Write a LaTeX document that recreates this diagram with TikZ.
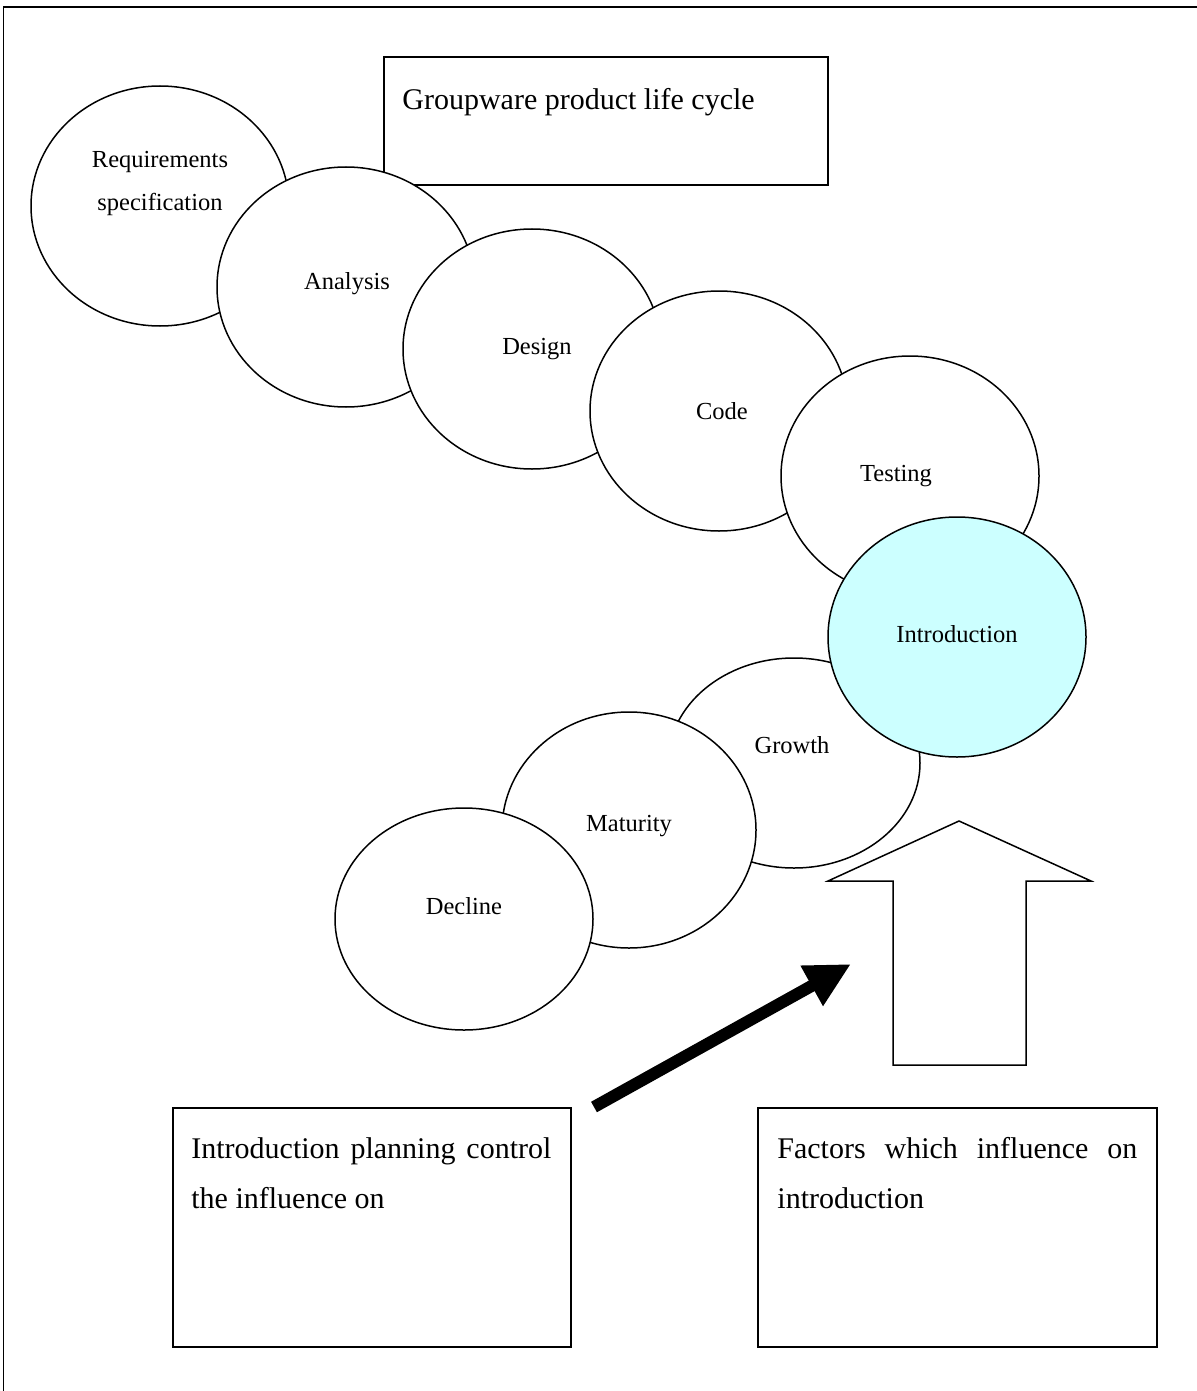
\documentclass[tikz,border=0pt]{standalone}
\usepackage{fontspec}
\setmainfont{Liberation Serif}
\usetikzlibrary{shapes.geometric,arrows.meta}
\definecolor{introfill}{HTML}{CCFFFF}
\begin{document}
\begin{tikzpicture}[x=0.5pt,y=-0.5pt,
  phase/.style={ellipse,draw,line width=0.75pt,fill=white,inner sep=0pt,
    minimum width=258pt*0.5,minimum height=240pt*0.5},
  phasetext/.style={font=\fontsize{12.25}{21.5}\selectfont,align=center,inner sep=0pt},
  textbox/.style={draw,line width=1pt,fill=white,anchor=north west,inner sep=0pt},
  boxtext/.style={font=\fontsize{15}{25}\selectfont,anchor=north west,inner sep=0pt,
    text width=180pt,align=justify},
]
\useasboundingbox (0,0) rectangle (1196,1391);

% page frame: only top and left edges show
\coordinate (frameA) at (3,1400);
\coordinate (frameB) at (3,7);
\coordinate (frameC) at (1200,7);
\draw[line width=0.5pt] (frameA) -- (frameB);
\draw[line width=1pt] (frameB) -- (frameC);

% title box
\node[textbox,minimum width=222pt,minimum height=64pt] (title) at (383,56) {};
\node[anchor=base west,inner sep=0pt,font=\fontsize{15}{18}\selectfont] (title-t) at (402,110) {Groupware product life cycle};

% development phases
\node[phase] (req) at (160,206) {};
\node[phasetext] (req-t) at (160,183) {Requirements\\specification};
\node[phase] (ana) at (346,287) {};
\node[phasetext] (ana-t) at (347,284) {Analysis};
\node[phase] (des) at (532,349) {};
\node[phasetext] (des-t) at (537,349) {Design};
\node[phase] (cod) at (719,411) {};
\node[phasetext] (cod-t) at (722,411) {Code};
\node[phase] (tst) at (910,476) {};
\node[phasetext] (tst-t) at (896,476) {Testing};

% market phases (Introduction lies on top of Growth)
\node[phase,minimum width=126pt,minimum height=105pt] (gro) at (794,763) {};
\node[phasetext] (gro-t) at (792,745) {Growth};
\node[phase,minimum width=127pt,minimum height=118pt] (mat) at (629,830) {};
\node[phasetext] (mat-t) at (629,826) {Maturity};
\node[phase,minimum width=129pt,minimum height=111pt] (dec) at (464,919) {};
\node[phasetext] (dec-t) at (464,906) {Decline};
\node[phase,fill=introfill] (int) at (957,637) {};
\node[phasetext] (int-t) at (957,634) {Introduction};

% outlined block arrow
\draw[line width=0.75pt,fill=white]
  (959,821) -- (1091,881) -- (1026,881) -- (1026,1065) -- (893,1065)
  -- (893,881) -- (828,881) -- cycle;

% solid arrow
\coordinate (arrS) at (594,1107);
\coordinate (arrE) at (851,964);
\draw[line width=6pt,-{Triangle[length=22.5pt,width=21.5pt]}] (arrS) -- (arrE);

% lower text boxes
\node[textbox,minimum width=199pt,minimum height=119.5pt] (plan) at (172,1107) {};
\node[boxtext] (plan-t) at (191,1137) {Introduction planning control\linebreak the influence on};
\node[textbox,minimum width=199.5pt,minimum height=119.5pt] (fact) at (757,1107) {};
\node[boxtext] (fact-t) at (777,1137) {Factors which influence on\linebreak introduction};
\end{tikzpicture}
\end{document}
